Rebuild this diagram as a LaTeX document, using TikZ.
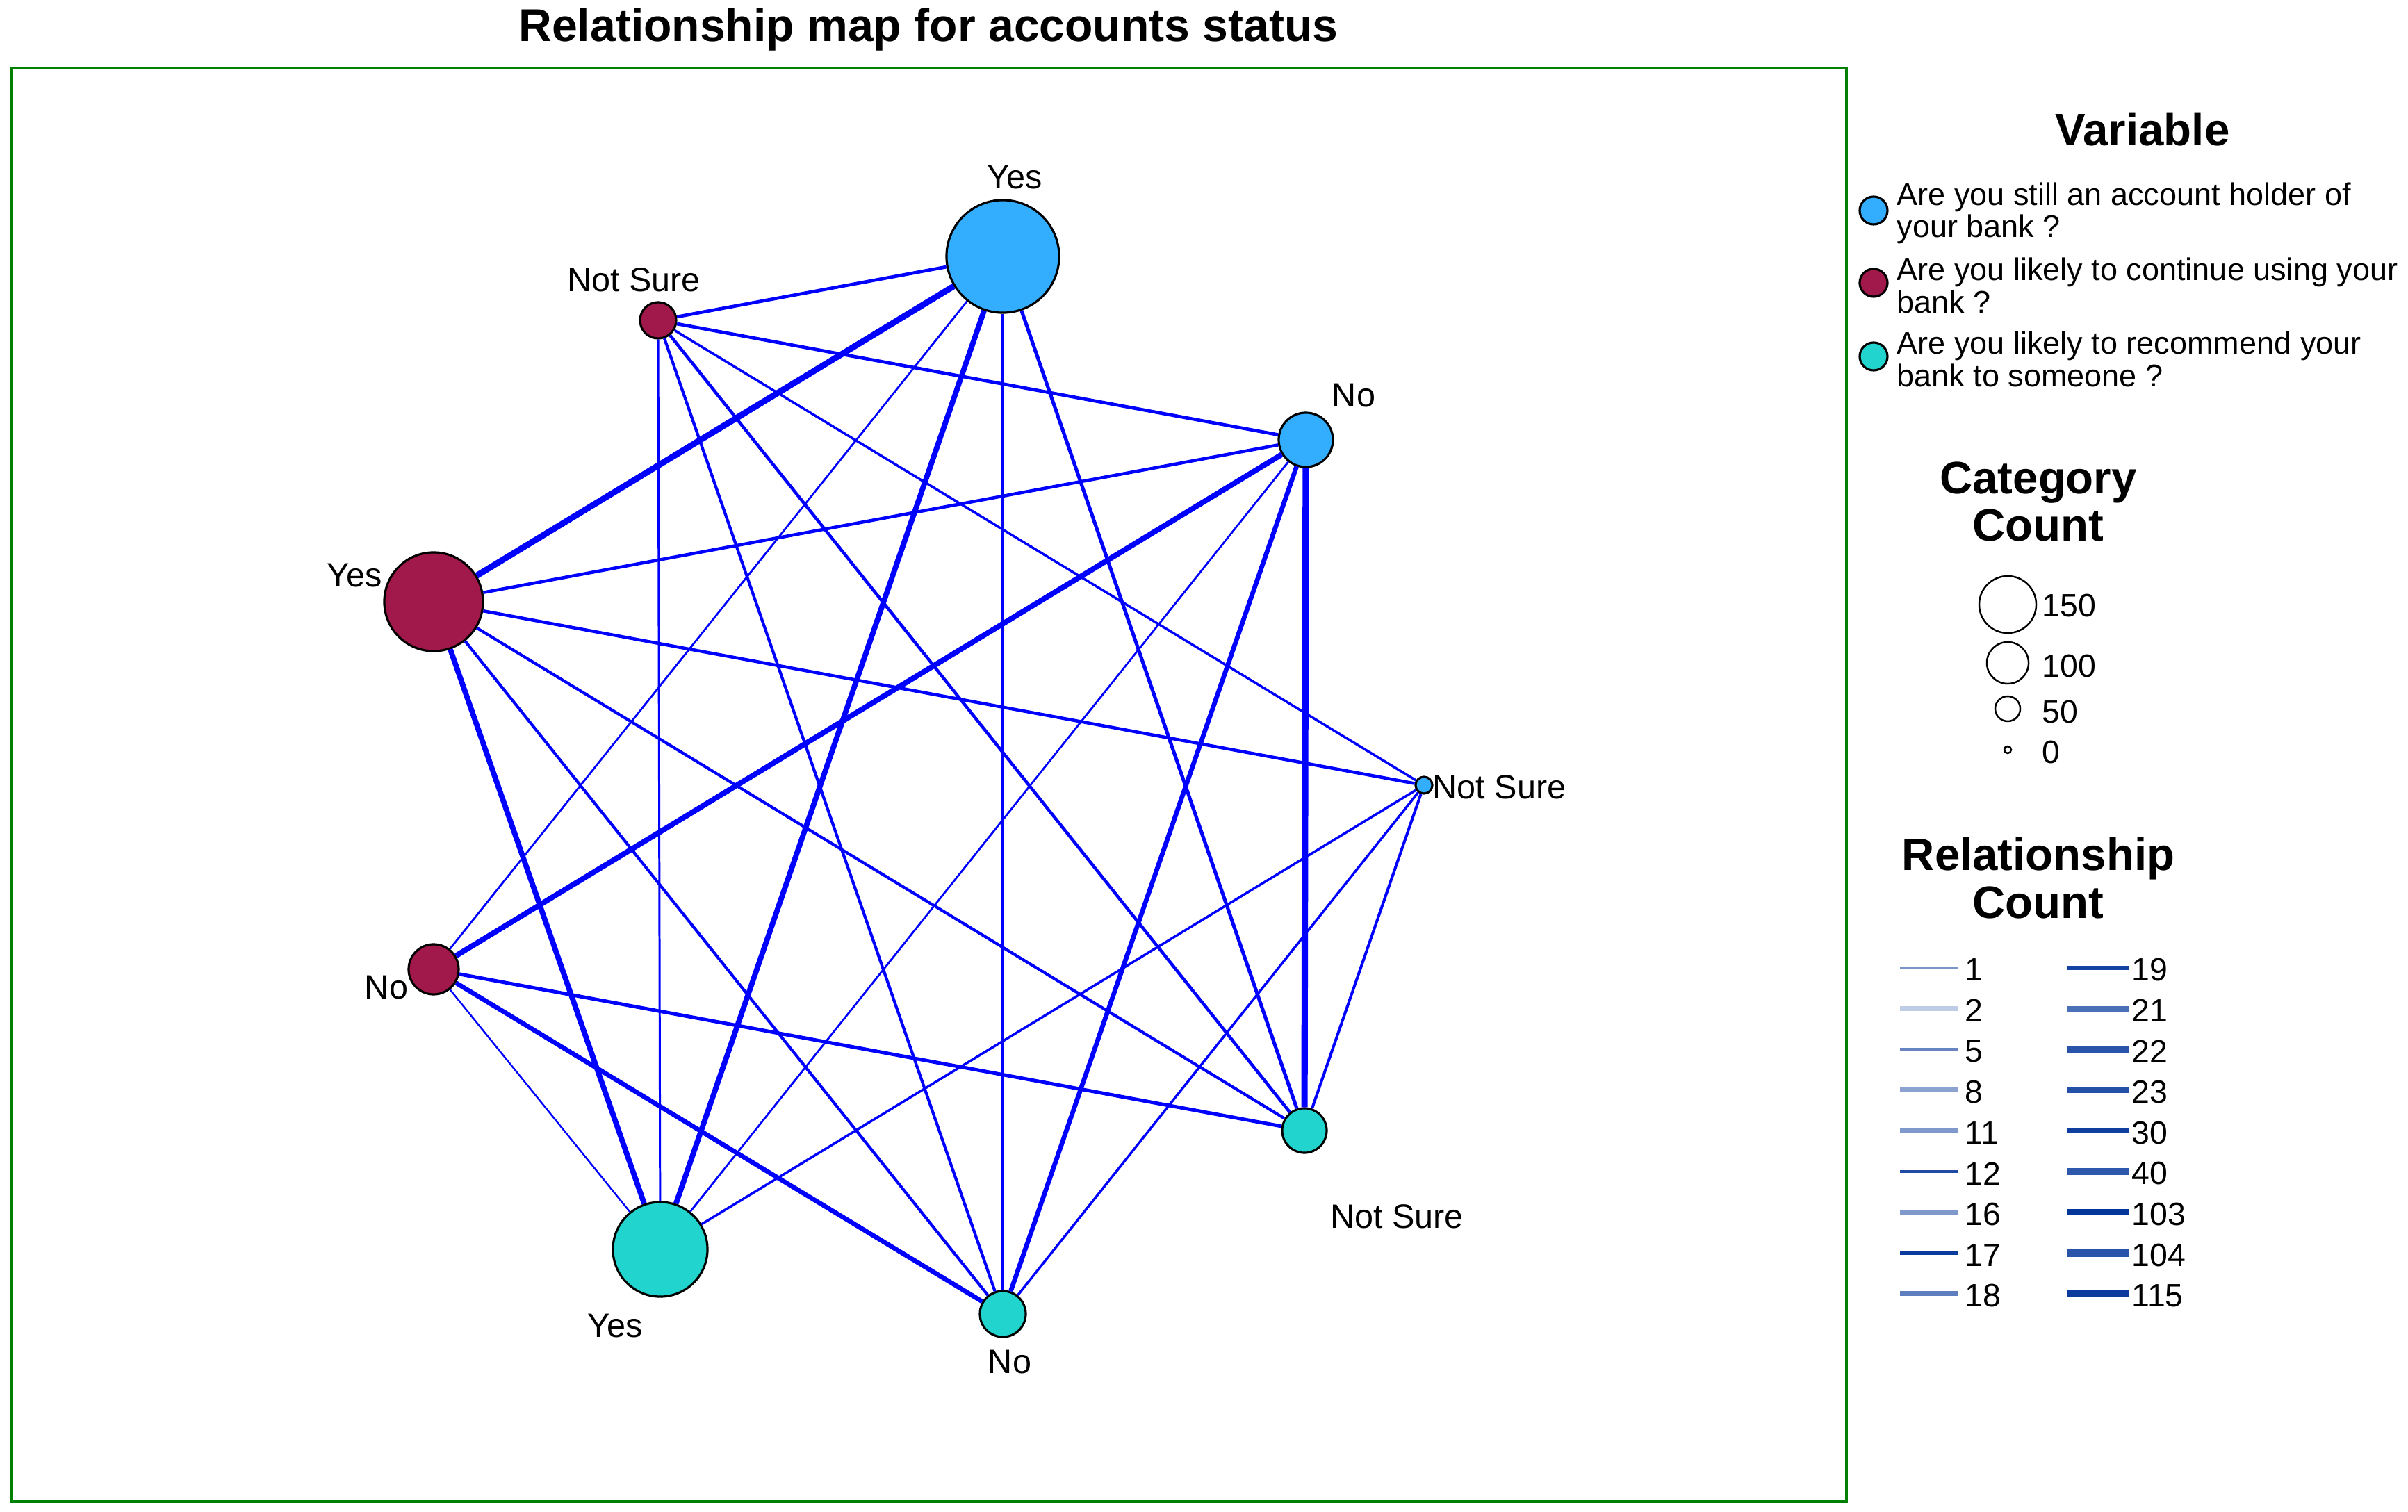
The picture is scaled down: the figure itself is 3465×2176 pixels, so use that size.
\documentclass[tikz,border=0pt]{standalone}
\usepackage{fontspec}
\setmainfont{Liberation Sans}
\usetikzlibrary{positioning}
\definecolor{accblue}{RGB}{51,174,255}
\definecolor{contred}{RGB}{161,24,74}
\definecolor{recteal}{RGB}{34,212,206}
\definecolor{framegreen}{RGB}{0,128,0}
\definecolor{rcbase}{RGB}{0,51,153}
\tikzstyle{cat}=[circle, draw=black, line width=0.9pt, inner sep=0pt]
\tikzstyle{lab}=[font=\fontsize{13.8}{16}\selectfont, inner sep=0pt]
\tikzstyle{rel}=[blue]
\tikzstyle{head}=[font=\bfseries\fontsize{18.6}{19.6}\selectfont, align=center, inner sep=0pt]
\tikzstyle{keytext}=[font=\fontsize{12.8}{13.2}\selectfont, align=left, anchor=west, inner sep=0pt]
\tikzstyle{keynum}=[font=\fontsize{13.2}{15}\selectfont, anchor=west, inner sep=0pt]

\begin{document}
\begin{tikzpicture}[x=0.01cm, y=-0.01cm]
	\useasboundingbox (0,0) rectangle (3465,2176);
	\node[head, font=\bfseries\fontsize{18.8}{20}\selectfont] (title) at (1336,42) {Relationship map for accounts status};
	\draw[framegreen, line width=1.1pt] (17,98) rectangle (2657,2161);

	% categories: account (a), continue (c), recommend (r)
	\foreach \n/\x/\y/\d/\c in {ay/1443/369/1.62/accblue, an/1879/633/0.78/accblue, ans/2049/1130/0.24/accblue,
		cns/947/461/0.52/contred, cy/624/866/1.42/contred, cn/624/1395/0.72/contred,
		ry/950/1798/1.36/recteal, rn/1443/1891/0.66/recteal, rns/1877/1627/0.64/recteal}
	\node[cat, fill=\c, minimum size=\d cm] (\n) at (\x,\y) {};

	\foreach \a/\b/\w in {ay/cns/1.35, ay/cy/2.5, ay/cn/0.8, ay/ry/2.2, ay/rn/1.0, ay/rns/1.45,
		an/cns/1.35, an/cy/1.3, an/cn/2.2, an/ry/0.8, an/rn/1.9, an/rns/2.6,
		ans/cns/1.0, ans/cy/1.3, ans/ry/1.0, ans/rn/1.0, ans/rns/1.15,
		cns/ry/0.85, cns/rn/1.2, cns/rns/1.3,
		cy/ry/2.2, cy/rn/1.2, cy/rns/1.2,
		cn/ry/0.7, cn/rn/1.9, cn/rns/1.45}
	\draw[rel, line width=\w pt] (\a) -- (\b);

	\node[lab, anchor=base] (lay) at (1460,272) {Yes};
	\node[lab, anchor=base] (lan) at (1948,586) {No};
	\node[lab, anchor=base west] (lans) at (2061,1149) {Not Sure};
	\node[lab, anchor=base] (lcns) at (912,420) {Not Sure};
	\node[lab, anchor=base] (lcy) at (510,844) {Yes};
	\node[lab, anchor=base] (lcn) at (556,1437) {No};
	\node[lab, anchor=base] (lry) at (885,1924) {Yes};
	\node[lab, anchor=base] (lrn) at (1453,1976) {No};
	\node[lab, anchor=base] (lrns) at (2010,1767) {Not Sure};

	% legend
	\node[head] (varhead) at (3083,186) {Variable};
	\foreach \i/\y/\c in {1/303/accblue, 2/407/contred, 3/513/recteal}
	\node[cat, fill=\c, minimum size=0.4cm] (key\i) at (2696,\y) {};
	\node[keytext] (keytext1) at (2729,307) {Are you still an account holder of\\your bank ?};
	\node[keytext] (keytext2) at (2729,411) {Are you likely to continue using your\\bank ?};
	\node[keytext] (keytext3) at (2729,517) {Are you likely to recommend your\\bank to someone ?};

	\node[head] (cathead) at (2933,722) {Category\\Count};
	\foreach \v/\y/\d/\t in {150/870/0.82/872, 100/954/0.6/959, 50/1020/0.36/1025, 0/1079/0.1/1083} {
		\node[circle, draw, line width=0.7pt, minimum size=\d cm, inner sep=0pt] (cc\v) at (2889,\y) {};
		\node[keynum] (ccl\v) at (2938,\t) {\v};
	}

	\node[head] (relhead) at (2933,1264) {Relationship\\Count};
	\foreach \i/\v/\c/\w in {0/1/52/1.1, 1/2/25/2.2, 2/5/60/1.1, 3/8/45/2.0, 4/11/50/2.0, 5/12/88/1.3, 6/16/50/2.3, 7/17/96/1.5, 8/18/63/2.0} {
		\draw[rcbase!\c, line width=\w pt] (2734,1393+58.6*\i) -- (2817,1393+58.6*\i);
		\node[keynum] (rl\v) at (2827,1396+58.6*\i) {\v};
	}
	\foreach \i/\v/\c/\w in {0/19/92/1.8, 1/21/70/2.3, 2/22/84/2.5, 3/23/86/2.3, 4/30/94/2.3, 5/40/82/2.8, 6/103/98/2.6, 7/104/84/3.2, 8/115/96/2.9} {
		\draw[rcbase!\c, line width=\w pt] (2975,1393+58.6*\i) -- (3063,1393+58.6*\i);
		\node[keynum] (rl\v) at (3067,1396+58.6*\i) {\v};
	}
\end{tikzpicture}
\end{document}
